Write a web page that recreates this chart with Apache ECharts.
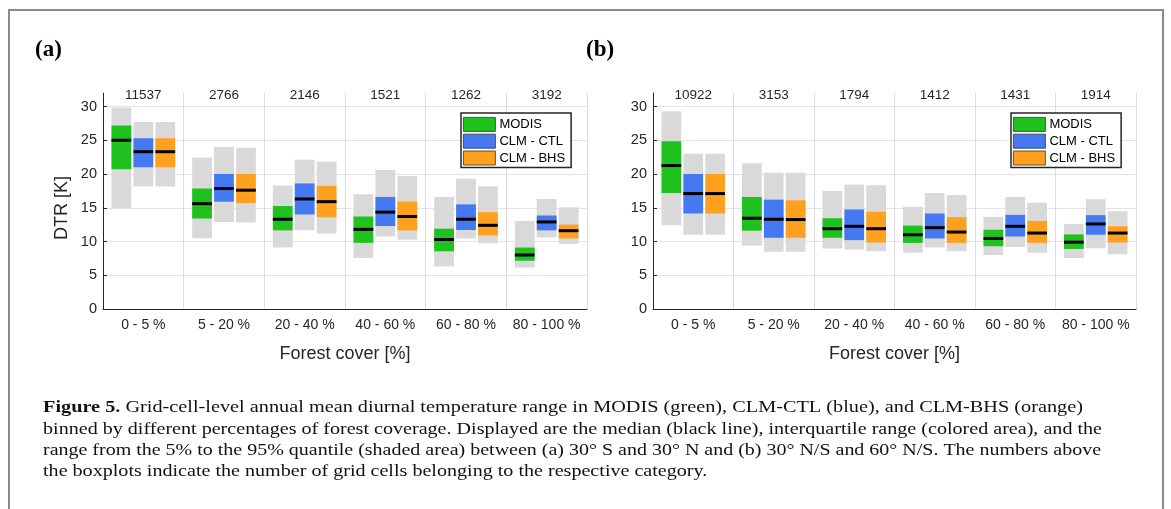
<!DOCTYPE html>
<html>
<head>
<meta charset="utf-8">
<script src="https://cdn.jsdelivr.net/npm/echarts@6/dist/echarts.min.js"></script>
<style>
html, body { margin: 0; padding: 0; background: #fff; }
#chart { width: 1171px; height: 509px; }
</style>
</head>
<body>
<div id="chart"></div>
<script>
const categories = ['0 - 5 %', '5 - 20 %', '20 - 40 %', '40 - 60 %', '60 - 80 %', '80 - 100 %'];
const countsA = ['11537', '2766', '2146', '1521', '1262', '3192'];
const countsB = ['10922', '3153', '1794', '1412', '1431', '1914'];
const modelNames = ['MODIS', 'CLM - CTL', 'CLM - BHS'];
const modelColors = ['#1ec11e', '#4479f1', '#ffa01f'];
const yTicks = [0, 5, 10, 15, 20, 25, 30];

// each row: [p5, q1, median, q3, p95]
// (a) 30S - 30N
const modisA = [[14.95, 20.7, 25.0, 27.2, 29.85], [10.5, 13.4, 15.6, 17.85, 22.45], [9.1, 11.65, 13.3, 15.25, 18.3],
  [7.55, 9.8, 11.8, 13.7, 17.0], [6.3, 8.55, 10.3, 11.9, 16.6], [6.15, 7.15, 8.0, 9.1, 13.05]];
const ctlA = [[18.15, 21.0, 23.3, 25.3, 27.7], [12.9, 15.9, 17.85, 20.0, 24.0], [11.65, 14.0, 16.3, 18.6, 22.1],
  [10.75, 12.3, 14.35, 16.6, 20.6], [10.45, 11.7, 13.3, 15.5, 19.3], [10.6, 11.65, 12.9, 13.85, 16.3]];
const bhsA = [[18.15, 21.0, 23.3, 25.3, 27.7], [12.8, 15.7, 17.6, 20.0, 23.9], [11.2, 13.6, 15.9, 18.25, 21.8],
  [10.25, 11.65, 13.7, 15.9, 19.7], [9.75, 10.9, 12.4, 14.35, 18.2], [9.65, 10.45, 11.6, 12.5, 15.05]];
// (b) 30N/S - 60N/S
const modisB = [[12.4, 17.2, 21.25, 24.85, 29.3], [9.4, 11.6, 13.45, 16.6, 21.6], [8.95, 10.55, 11.9, 13.45, 17.5],
  [8.35, 9.8, 11.0, 12.35, 15.15], [8.0, 9.3, 10.45, 11.75, 13.65], [7.55, 8.9, 9.9, 11.05, 12.6]];
const ctlB = [[11.0, 14.15, 17.1, 20.0, 23.0], [8.5, 10.55, 13.3, 16.2, 20.2], [8.8, 10.2, 12.25, 14.75, 18.45],
  [9.1, 10.45, 12.05, 14.15, 17.2], [9.2, 10.75, 12.25, 13.95, 16.6], [9.0, 11.0, 12.6, 13.9, 16.25]];
const bhsB = [[11.0, 14.15, 17.1, 20.0, 23.0], [8.5, 10.55, 13.25, 16.1, 20.2], [8.55, 9.85, 11.9, 14.4, 18.35],
  [8.55, 9.8, 11.4, 13.6, 16.9], [8.35, 9.8, 11.25, 13.05, 15.75], [8.1, 9.85, 11.25, 12.25, 14.5]];

const captionLines = [
  '{b|Figure 5.} Grid-cell-level annual mean diurnal temperature range in MODIS (green), CLM-CTL (blue), and CLM-BHS (orange)',
  'binned by different percentages of forest coverage. Displayed are the median (black line), interquartile range (colored area), and the',
  'range from the 5% to the 95% quantile (shaded area) between (a) 30° S and 30° N and (b) 30° N/S and 60° N/S. The numbers above',
  'the boxplots indicate the number of grid cells belonging to the respective category.'
];

const sans = '"Liberation Sans", Arial, sans-serif';
const serif = '"Liberation Serif", "Times New Roman", serif';
const ink = '#262626';

// box + whisker patch for one model inside each category band
function boxRenderer(slot, color) {
  return function (params, api) {
    const cat = api.value(0);
    const band = api.size([1, 0])[0];
    const w = band * 0.245;
    const cx = api.coord([cat, 0])[0] + (slot - 1) * band * 0.272;
    const x0 = cx - w / 2;
    const y = v => api.coord([cat, v])[1];
    const p5 = y(api.value(1)), q1 = y(api.value(2)), med = y(api.value(3)), q3 = y(api.value(4)), p95 = y(api.value(5));
    return {
      type: 'group',
      children: [
        { type: 'rect', shape: { x: x0, y: p95, width: w, height: p5 - p95 }, style: { fill: '#d9d9d9' } },
        { type: 'rect', shape: { x: x0, y: q3, width: w, height: q1 - q3 }, style: { fill: color } },
        { type: 'line', shape: { x1: x0, y1: med, x2: x0 + w, y2: med }, style: { stroke: '#000', lineWidth: 3 } }
      ]
    };
  };
}

function boxSeries(rows, slot, xIdx, yIdx) {
  return {
    type: 'custom',
    name: modelNames[slot],
    xAxisIndex: xIdx,
    yAxisIndex: yIdx,
    itemStyle: { color: modelColors[slot] },
    encode: { x: 0, y: [1, 2, 3, 4, 5] },
    renderItem: boxRenderer(slot, modelColors[slot]),
    data: rows.map((r, i) => [i].concat(r))
  };
}

function bottomAxis(gridIndex) {
  return {
    type: 'category', gridIndex: gridIndex, position: 'bottom', data: categories, boundaryGap: true,
    axisLine: { lineStyle: { color: ink, width: 1 } },
    axisTick: { show: false },
    axisLabel: { interval: 0, margin: 9, fontFamily: sans, fontSize: 14, color: ink },
    splitLine: { show: true, interval: 0, lineStyle: { color: '#dcdcdc', width: 1 } },
    name: 'Forest cover [%]', nameLocation: 'middle', nameGap: 36,
    nameTextStyle: { fontFamily: sans, fontSize: 18, color: ink }
  };
}

function topAxis(gridIndex, counts) {
  return {
    type: 'category', gridIndex: gridIndex, position: 'top', data: counts, boundaryGap: true,
    axisLine: { show: false }, axisTick: { show: false }, splitLine: { show: false },
    axisLabel: { interval: 0, margin: -2, verticalAlign: 'middle', fontFamily: sans, fontSize: 13.5, color: ink }
  };
}

function valueAxis(gridIndex, withName) {
  return {
    type: 'value', gridIndex: gridIndex, min: 0, max: 32, interval: 5,
    axisLine: { show: true, lineStyle: { color: ink, width: 1 } },
    axisTick: { show: true, inside: true, length: 4, customValues: yTicks, lineStyle: { color: ink } },
    axisLabel: { customValues: yTicks, margin: 6, fontFamily: sans, fontSize: 14.5, color: ink },
    splitLine: { show: true, showMinLine: false, lineStyle: { color: '#e3e3e3', width: 1 } },
    name: withName ? 'DTR [K]' : '', nameLocation: 'middle', nameGap: 32, nameRotate: 90,
    nameTextStyle: { fontFamily: sans, fontSize: 18, color: ink, padding: [0, 14, 0, 0] }
  };
}

function legendAt(left) {
  return {
    left: left, top: 113, orient: 'vertical', icon: 'rect', data: modelNames,
    itemWidth: 32, itemHeight: 14, itemGap: 2, padding: [4, 6, 2, 2],
    backgroundColor: '#fff', borderColor: ink, borderWidth: 1.5, borderRadius: 0,
    itemStyle: { borderColor: '#333', borderWidth: 0.8 },
    textStyle: { fontFamily: sans, fontSize: 13, color: '#000', padding: [0, 0, 0, -1] }
  };
}

// caption lines: stretch horizontally to the measured widths of the reference
const measureCtx = document.createElement('canvas').getContext('2d');
function textWidth(line) {
  const m = line.match(/^\{b\|(.*?)\}(.*)$/);
  let w = 0, rest = line;
  if (m) {
    measureCtx.font = 'bold 17px ' + serif;
    w += measureCtx.measureText(m[1]).width;
    rest = m[2];
  }
  measureCtx.font = '17px ' + serif;
  return w + measureCtx.measureText(rest).width;
}
const captionTargets = [1040, 1059, 1058, null];
const baseScale = captionTargets[1] / textWidth(captionLines[1]);
const captionGraphics = captionLines.map((line, i) => ({
  type: 'text', x: 43, y: 408 + i * 21.3,
  scaleX: captionTargets[i] ? captionTargets[i] / textWidth(line) : baseScale,
  style: {
    text: line, font: '17px ' + serif, fill: '#111', verticalAlign: 'middle',
    rich: { b: { fontWeight: 'bold', fontFamily: serif, fontSize: 17, fill: '#111' } }
  }
}));

const chart = echarts.init(document.getElementById('chart'), null, { renderer: 'canvas' });
chart.setOption({
  animation: false,
  backgroundColor: '#fff',
  grid: [
    { left: 103, right: 584, top: 93, bottom: 200 },
    { left: 653, right: 35, top: 93, bottom: 200 }
  ],
  xAxis: [bottomAxis(0), topAxis(0, countsA), bottomAxis(1), topAxis(1, countsB)],
  yAxis: [valueAxis(0, true), valueAxis(1, false)],
  legend: [legendAt(461), legendAt(1011)],
  series: [
    boxSeries(modisA, 0, 0, 0), boxSeries(ctlA, 1, 0, 0), boxSeries(bhsA, 2, 0, 0),
    boxSeries(modisB, 0, 2, 1), boxSeries(ctlB, 1, 2, 1), boxSeries(bhsB, 2, 2, 1)
  ],
  graphic: [
    { type: 'rect', z: -10, shape: { x: 9, y: 10, width: 1154, height: 540 }, style: { fill: 'none', stroke: '#8a8a8a', lineWidth: 2 } },
    { type: 'text', x: 35, y: 50, style: { text: '(a)', font: 'bold 23px ' + serif, fill: '#000', verticalAlign: 'middle' } },
    { type: 'text', x: 586, y: 50, style: { text: '(b)', font: 'bold 23px ' + serif, fill: '#000', verticalAlign: 'middle' } }
  ].concat(captionGraphics)
});
</script>
</body>
</html>
